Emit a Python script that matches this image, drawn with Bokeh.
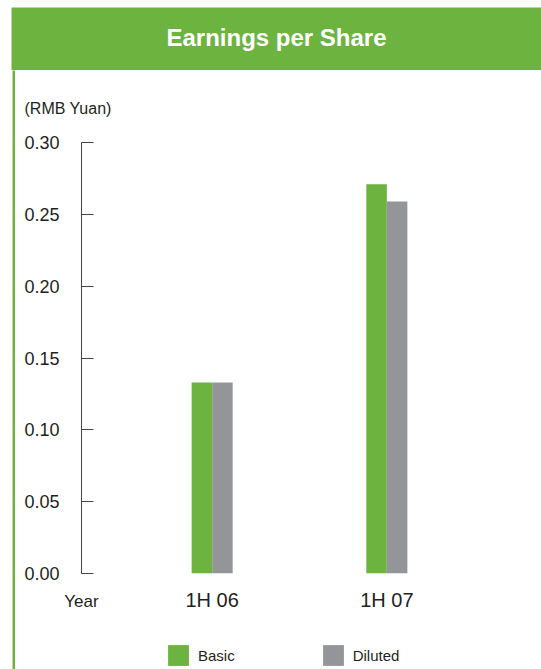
from bokeh.plotting import figure
from bokeh.layouts import column, row
from bokeh.models import (Range1d, FixedTicker, PrintfTickFormatter, LinearAxis,
                          Legend, LegendItem, ColumnDataSource, Spacer)
from bokeh.transform import dodge
from bokeh.embed import file_html
from bokeh.resources import INLINE

# Earnings per share, RMB Yuan
title_text = "Earnings per Share"
unit_text = "(RMB Yuan)"
x_name = "Year"
series = ["Basic", "Diluted"]
categories = ["1H 06", "1H 07"]
basic = [0.133, 0.271]
diluted = [0.133, 0.259]
y_ticks = [0.00, 0.05, 0.10, 0.15, 0.20, 0.25, 0.30]

GREEN = "#6db33f"
GREY = "#939598"
INK = "#231f20"
FONT = "Liberation Sans"


def blank(width, height, fill):
    f = figure(width=width, height=height, min_border=0, toolbar_location=None,
               x_axis_type=None, y_axis_type=None, output_backend="svg",
               x_range=Range1d(0, 1), y_range=Range1d(0, 1))
    f.outline_line_color = None
    f.background_fill_color = fill
    f.border_fill_color = fill
    f.xgrid.visible = False
    f.ygrid.visible = False
    return f


# green title band
header = blank(530, 63, GREEN)
header.text(x=[0.5], y=[0.52], text=[title_text], text_align="center",
            text_baseline="middle", text_font={"value": FONT}, text_font_style="bold",
            text_font_size="24px", text_color="white")

# thin green rule down the left side
rule = blank(3, 599, GREEN)

idx = list(range(len(categories)))
source = ColumnDataSource(data=dict(idx=idx, basic=basic, diluted=diluted))

pad = 0.748  # room either side of the two groups, in group units
p = figure(
    width=526, height=555,
    x_range=Range1d(idx[0] - pad, idx[-1] + pad),
    y_range=Range1d(0, 0.30),
    output_backend="svg", toolbar_location=None,
    min_border_left=66, min_border_right=24, min_border_top=72, min_border_bottom=52,
)
p.outline_line_color = None
p.background_fill_color = "white"
p.border_fill_color = "white"
p.xgrid.visible = False
p.ygrid.visible = False

# unit note above the axis
p.title.text = unit_text
p.title.align = "left"
p.title.offset = -57
p.title.standoff = 52
p.title.text_font = FONT
p.title.text_font_style = "normal"
p.title.text_font_size = "16px"
p.title.text_color = INK

bar_w = 0.1175
p.vbar(x=dodge("idx", -bar_w / 2), top="basic", width=bar_w,
       source=source, fill_color=GREEN, line_color=None)
p.vbar(x=dodge("idx", bar_w / 2), top="diluted", width=bar_w,
       source=source, fill_color=GREY, line_color=None)

# y axis: line with inward ticks
ya = p.yaxis[0]
ya.ticker = FixedTicker(ticks=y_ticks)
ya.formatter = PrintfTickFormatter(format="%.2f")
ya.axis_line_color = "#444444"
ya.major_tick_line_color = "#444444"
ya.major_tick_in = 12
ya.major_tick_out = 0
ya.minor_tick_line_color = None
ya.major_label_standoff = 22
ya.major_label_text_font = FONT
ya.major_label_text_font_size = "18px"
ya.major_label_text_color = INK

# x axis: category names only
xa = p.xaxis[0]
xa.ticker = FixedTicker(ticks=idx)
xa.major_label_overrides = {i: c for i, c in zip(idx, categories)}
xa.axis_line_color = None
xa.major_tick_line_color = None
xa.major_tick_in = 0
xa.major_tick_out = 0
xa.minor_tick_line_color = None
xa.major_label_standoff = 15
xa.major_label_text_font = FONT
xa.major_label_text_font_size = "20px"
xa.major_label_text_color = INK

# axis name, on the row of the category labels, under the y axis
name_pos = idx[0] - pad
name_axis = LinearAxis(ticker=FixedTicker(ticks=[name_pos]),
                       major_label_overrides={name_pos: x_name})
name_axis.axis_line_color = None
name_axis.major_tick_line_color = None
name_axis.minor_tick_line_color = None
name_axis.major_tick_in = 0
name_axis.major_tick_out = 0
name_axis.major_label_standoff = -22
name_axis.major_label_text_font = FONT
name_axis.major_label_text_font_size = "17px"
name_axis.major_label_text_color = INK
p.add_layout(name_axis, "below")

# key strip under the chart: hidden copies of the bars supply the swatches
key = blank(526, 44, "white")
k_basic = key.vbar(x="idx", top="basic", width=bar_w, source=source,
                   fill_color=GREEN, line_color=None, visible=False)
k_dil = key.vbar(x="idx", top="diluted", width=bar_w, source=source,
                 fill_color=GREY, line_color=None, visible=False)
legend = Legend(
    items=[LegendItem(label=series[0], renderers=[k_basic]),
           LegendItem(label=series[1], renderers=[k_dil])],
    location=(84, 1), orientation="horizontal",
    glyph_width=26, glyph_height=26, label_standoff=7, label_width=0, label_height=26,
    spacing=85, padding=0, margin=0,
    border_line_color=None, background_fill_alpha=0,
    inactive_fill_alpha=0,
    label_text_font=FONT, label_text_font_size="15px", label_text_color=INK,
)
key.add_layout(legend, "center")

layout = column(
    Spacer(width=541, height=7),
    row(Spacer(width=11, height=63), header),
    row(Spacer(width=12, height=599), rule, column(p, key)),
)

open("out.html", "w").write(file_html(layout, INLINE))
